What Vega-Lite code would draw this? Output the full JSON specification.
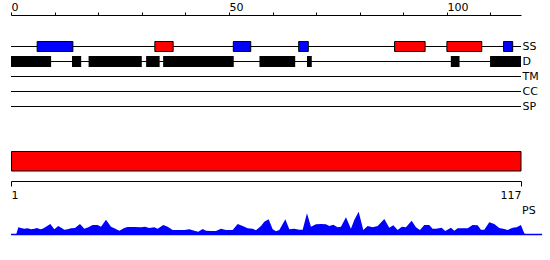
{
  "$schema": "https://vega.github.io/schema/vega-lite/v6.json",
  "padding": {"left": 10, "top": 1, "right": 0, "bottom": 0},
  "spacing": 23,
  "config": {
    "view": {"stroke": null},
    "axis": {"labelFont": "DejaVu Sans", "labelFontSize": 11, "labelColor": "black", "domainColor": "black", "tickColor": "black", "grid": false},
    "text": {"font": "DejaVu Sans"}
  },
  "datasets": {
    "tracks": [
      {"track": "SS", "start": 0, "end": 117},
      {"track": "D", "start": 0, "end": 117},
      {"track": "TM", "start": 0, "end": 117},
      {"track": "CC", "start": 0, "end": 117},
      {"track": "SP", "start": 0, "end": 117}
    ],
    "ss": [
      {"track": "SS", "ss": "E", "start": 6, "end": 14.2},
      {"track": "SS", "ss": "H", "start": 33, "end": 37.2},
      {"track": "SS", "ss": "E", "start": 51, "end": 55},
      {"track": "SS", "ss": "E", "start": 66, "end": 68.2},
      {"track": "SS", "ss": "H", "start": 88, "end": 95},
      {"track": "SS", "ss": "H", "start": 100, "end": 108},
      {"track": "SS", "ss": "E", "start": 113, "end": 115.1}
    ],
    "disorder": [
      {"track": "D", "start": 0, "end": 9.2},
      {"track": "D", "start": 14, "end": 16.1},
      {"track": "D", "start": 17.8, "end": 30},
      {"track": "D", "start": 31, "end": 34.1},
      {"track": "D", "start": 34.9, "end": 51.1},
      {"track": "D", "start": 57, "end": 65.2},
      {"track": "D", "start": 67.9, "end": 69},
      {"track": "D", "start": 100.9, "end": 102.9},
      {"track": "D", "start": 109.9, "end": 117}
    ],
    "domain": [
      {"start": 1, "end": 117}
    ],
    "baseline": [
      {"from": 1, "to": 121.8, "level": 0}
    ],
    "pslabel": [
      {"label": "PS", "pos": 117, "level": 24}
    ],
    "ps": [
      {"pos": 1.0, "score": 0},
      {"pos": 2.14, "score": 0},
      {"pos": 2.67, "score": 7.7},
      {"pos": 3.27, "score": 7},
      {"pos": 4.03, "score": 6.3},
      {"pos": 4.79, "score": 6.7},
      {"pos": 5.55, "score": 5.7},
      {"pos": 6.3, "score": 6.3},
      {"pos": 6.91, "score": 7},
      {"pos": 7.67, "score": 5.7},
      {"pos": 8.2, "score": 6.3},
      {"pos": 8.96, "score": 8.3},
      {"pos": 9.94, "score": 11},
      {"pos": 10.85, "score": 5.7},
      {"pos": 11.76, "score": 9},
      {"pos": 12.53, "score": 7},
      {"pos": 13.12, "score": 5.3},
      {"pos": 13.89, "score": 5.7},
      {"pos": 14.65, "score": 6.7},
      {"pos": 15.56, "score": 7},
      {"pos": 16.69, "score": 11},
      {"pos": 17.68, "score": 6.3},
      {"pos": 18.59, "score": 7.7},
      {"pos": 19.57, "score": 10},
      {"pos": 20.71, "score": 10},
      {"pos": 21.47, "score": 8.3},
      {"pos": 22.61, "score": 15.3},
      {"pos": 23.74, "score": 8.3},
      {"pos": 24.5, "score": 6.7},
      {"pos": 25.64, "score": 4.3},
      {"pos": 26.77, "score": 7},
      {"pos": 27.54, "score": 8},
      {"pos": 29.05, "score": 8},
      {"pos": 30.57, "score": 7.7},
      {"pos": 31.48, "score": 8.3},
      {"pos": 32.46, "score": 7},
      {"pos": 33.59, "score": 7.7},
      {"pos": 34.36, "score": 6.3},
      {"pos": 35.64, "score": 10},
      {"pos": 36.63, "score": 8.3},
      {"pos": 37.77, "score": 5},
      {"pos": 38.91, "score": 5},
      {"pos": 40.42, "score": 5},
      {"pos": 41.55, "score": 5.7},
      {"pos": 42.69, "score": 4.3},
      {"pos": 43.6, "score": 3.3},
      {"pos": 44.59, "score": 6},
      {"pos": 45.35, "score": 4.3},
      {"pos": 46.49, "score": 4},
      {"pos": 47.62, "score": 4},
      {"pos": 48.76, "score": 6.3},
      {"pos": 49.9, "score": 5},
      {"pos": 51.42, "score": 5},
      {"pos": 52.56, "score": 11},
      {"pos": 53.69, "score": 9},
      {"pos": 54.83, "score": 6.7},
      {"pos": 55.97, "score": 6.3},
      {"pos": 56.72, "score": 4.7},
      {"pos": 57.86, "score": 9},
      {"pos": 58.61, "score": 13.3},
      {"pos": 59.6, "score": 15.7},
      {"pos": 60.52, "score": 5.7},
      {"pos": 61.27, "score": 3.7},
      {"pos": 62.03, "score": 5},
      {"pos": 63.4, "score": 15.7},
      {"pos": 64.3, "score": 5.7},
      {"pos": 65.44, "score": 6.3},
      {"pos": 66.57, "score": 5.3},
      {"pos": 67.34, "score": 5.3},
      {"pos": 68.32, "score": 21.7},
      {"pos": 69.23, "score": 8.3},
      {"pos": 70.37, "score": 10.7},
      {"pos": 71.5, "score": 11},
      {"pos": 72.64, "score": 10.7},
      {"pos": 73.4, "score": 9},
      {"pos": 74.31, "score": 10.3},
      {"pos": 75.3, "score": 7.7},
      {"pos": 76.05, "score": 8.3},
      {"pos": 77.19, "score": 17.7},
      {"pos": 78.32, "score": 6.3},
      {"pos": 79.08, "score": 15},
      {"pos": 80.07, "score": 23.3},
      {"pos": 81.13, "score": 5},
      {"pos": 82.12, "score": 9},
      {"pos": 83.26, "score": 7.7},
      {"pos": 84.4, "score": 9},
      {"pos": 85.91, "score": 16},
      {"pos": 87.04, "score": 7.3},
      {"pos": 87.95, "score": 9.7},
      {"pos": 88.94, "score": 5},
      {"pos": 89.92, "score": 8.3},
      {"pos": 90.83, "score": 7.7},
      {"pos": 92.13, "score": 14.3},
      {"pos": 93.11, "score": 7.7},
      {"pos": 94.02, "score": 5},
      {"pos": 95.0, "score": 10},
      {"pos": 96.13, "score": 10},
      {"pos": 96.89, "score": 6.3},
      {"pos": 97.66, "score": 6.3},
      {"pos": 98.95, "score": 7.3},
      {"pos": 99.77, "score": 4},
      {"pos": 101.07, "score": 7.3},
      {"pos": 101.82, "score": 4.3},
      {"pos": 102.59, "score": 6.7},
      {"pos": 103.73, "score": 6.7},
      {"pos": 104.87, "score": 6.7},
      {"pos": 106.0, "score": 10},
      {"pos": 107.14, "score": 9.7},
      {"pos": 107.89, "score": 5.3},
      {"pos": 108.65, "score": 5.3},
      {"pos": 109.78, "score": 12.7},
      {"pos": 110.92, "score": 11},
      {"pos": 112.06, "score": 7},
      {"pos": 113.19, "score": 6},
      {"pos": 113.96, "score": 5},
      {"pos": 115.1, "score": 7.3},
      {"pos": 116.0, "score": 7.7},
      {"pos": 116.99, "score": 10},
      {"pos": 117.6, "score": 3.3},
      {"pos": 117.97, "score": 0}
    ]
  },
  "vconcat": [
    {
      "width": 510,
      "height": 105,
      "encoding": {
        "x": {
          "field": "start", "type": "quantitative",
          "scale": {"domain": [0, 117], "nice": false, "zero": false},
          "axis": {
            "orient": "top", "title": null, "offset": 8,
            "values": [0, 10, 20, 30, 40, 50, 60, 70, 80, 90, 100, 110],
            "labelExpr": "datum.value % 50 === 0 ? datum.label : ''",
            "labelAlign": "left", "labelFlush": false, "labelOverlap": false, "labelBound": false,
            "tickSize": 3, "labelPadding": 0
          }
        },
        "x2": {"field": "end"},
        "y": {
          "field": "track", "type": "nominal",
          "scale": {"type": "band", "domain": ["SS", "D", "TM", "CC", "SP"], "paddingInner": 0, "paddingOuter": 1},
          "axis": {"orient": "right", "title": null, "ticks": false, "domain": false, "labelPadding": 1, "labelFontSize": 11, "labelOffset": 1}
        }
      },
      "layer": [
        {"data": {"name": "tracks"}, "mark": {"type": "rule", "color": "black", "strokeWidth": 1, "yOffset": 1}},
        {
          "data": {"name": "ss"},
          "mark": {"type": "bar", "height": 10, "stroke": "black", "strokeWidth": 1, "yOffset": 1},
          "encoding": {
            "color": {"field": "ss", "type": "nominal", "scale": {"domain": ["E", "H"], "range": ["#0000ff", "#ff0000"]}, "legend": null}
          }
        },
        {"data": {"name": "disorder"}, "mark": {"type": "bar", "height": 11, "color": "black", "yOffset": 1}}
      ]
    },
    {
      "spacing": 4,
      "vconcat": [
        {
          "width": 510,
          "height": 20,
          "data": {"name": "domain"},
          "mark": {"type": "rect", "fill": "#ff0000", "stroke": "black", "strokeWidth": 1, "xOffset": 0.5, "yOffset": 0.5},
          "encoding": {
            "x": {
              "field": "start", "type": "quantitative",
              "scale": {"domain": [1, 117], "nice": false, "zero": false},
              "axis": {"orient": "bottom", "title": null, "values": [1, 117], "labelFlush": true, "tickSize": 5, "offset": 10, "labelPadding": 3}
            },
            "x2": {"field": "end"}
          }
        },
        {
          "width": 510,
          "height": 30,
          "encoding": {
            "x": {"type": "quantitative", "scale": {"domain": [1, 117], "nice": false, "zero": false}, "axis": null},
            "y": {"type": "quantitative", "scale": {"domain": [0, 30], "nice": false}, "axis": null}
          },
          "layer": [
            {
              "data": {"name": "ps"},
              "mark": {"type": "area", "color": "#0000ff", "interpolate": "linear"},
              "encoding": {
                "x": {"field": "pos", "type": "quantitative"},
                "y": {"field": "score", "type": "quantitative"}
              }
            },
            {
              "data": {"name": "baseline"},
              "mark": {"type": "rule", "color": "#0000ff", "strokeWidth": 1.5, "yOffset": -0.5},
              "encoding": {
                "x": {"field": "from", "type": "quantitative"},
                "x2": {"field": "to"},
                "y": {"field": "level", "type": "quantitative"}
              }
            },
            {
              "data": {"name": "pslabel"},
              "mark": {"type": "text", "align": "left", "baseline": "middle", "dx": 1, "fontSize": 11, "color": "black"},
              "encoding": {
                "x": {"field": "pos", "type": "quantitative"},
                "y": {"field": "level", "type": "quantitative"},
                "text": {"field": "label"}
              }
            }
          ]
        }
      ]
    }
  ]
}
